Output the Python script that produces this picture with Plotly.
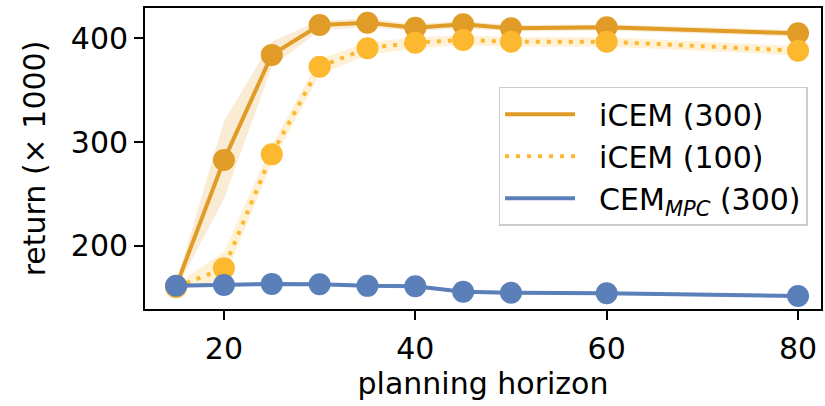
import plotly.graph_objects as go

# planning horizons evaluated
horizon = [15, 20, 25, 30, 35, 40, 45, 50, 60, 80]

# mean return (x 1000) per method
icem300_mean = [161.0, 282.6, 384.0, 412.8, 415.0, 410.2, 413.5, 409.6, 410.6, 404.8]
icem300_lo = [158.0, 245.0, 372.0, 408.0, 411.0, 407.0, 410.0, 406.5, 407.5, 401.5]
icem300_hi = [164.0, 320.0, 397.0, 417.0, 419.0, 413.5, 417.0, 412.5, 413.5, 408.0]

icem100_mean = [160.0, 178.2, 288.1, 372.6, 390.4, 395.8, 398.4, 396.7, 396.7, 388.0]
icem100_lo = [157.0, 167.0, 279.0, 365.0, 384.0, 390.5, 393.5, 392.0, 392.0, 383.5]
icem100_hi = [163.0, 194.0, 297.0, 380.0, 396.0, 401.0, 403.0, 401.0, 401.0, 392.5]

cem_mean = [161.5, 162.2, 163.2, 162.8, 161.3, 161.0, 155.6, 154.7, 154.1, 151.5]
cem_lo = [160.0, 160.7, 161.7, 161.3, 159.8, 159.5, 154.1, 153.2, 152.6, 150.0]
cem_hi = [163.0, 163.7, 164.7, 164.3, 162.8, 162.5, 157.1, 156.2, 155.6, 153.0]

labels = ["iCEM (300)", "iCEM (100)", "CEM<sub><i>MPC</i></sub> (300)"]
colors = ["#E09C26", "#FCB82E", "#5B7FB8"]
bands = ["rgba(224,156,38,0.2)", "rgba(252,184,46,0.2)", "rgba(91,127,184,0.2)"]
dashes = ["solid", "4px,7px", "solid"]

series = [
    (icem300_mean, icem300_lo, icem300_hi),
    (icem100_mean, icem100_lo, icem100_hi),
    (cem_mean, cem_lo, cem_hi),
]

FONT = "DejaVu Sans"
FS = 30
fig = go.Figure()

for (mean, lo, hi), col, band, dash, name in zip(series, colors, bands, dashes, labels):
    # shaded spread
    fig.add_trace(go.Scatter(
        x=horizon + horizon[::-1], y=hi + lo[::-1],
        fill="toself", fillcolor=band, line=dict(width=0),
        mode="lines", hoverinfo="skip", showlegend=False,
    ))
    # mean curve with markers
    fig.add_trace(go.Scatter(
        x=horizon, y=mean, mode="lines+markers",
        line=dict(color=col, width=4, dash=dash),
        marker=dict(color=col, size=22, line=dict(width=0)),
        showlegend=False, name=name,
    ))

# legend entries (line only)
for col, dash, name in zip(colors, dashes, labels):
    fig.add_trace(go.Scatter(
        x=[None], y=[None], mode="lines",
        line=dict(color=col, width=4, dash=dash), name="  " + name,
    ))

axis_common = dict(
    showline=True, mirror=True, linecolor="black", linewidth=1.8,
    ticks="outside", ticklen=9, tickwidth=1.8, tickcolor="black",
    showgrid=False, zeroline=False,
    tickfont=dict(family=FONT, size=FS, color="black"),
)

fig.update_layout(
    width=825, height=406,
    margin=dict(l=145, r=2, t=8, b=97),
    paper_bgcolor="white", plot_bgcolor="white",
    font=dict(family=FONT, size=FS, color="black"),
    xaxis=dict(range=[11.75, 82.4], tickvals=[20, 40, 60, 80], ticklabelstandoff=3,
               title=dict(text="planning horizon", font=dict(family=FONT, size=FS), standoff=8),
               **axis_common),
    yaxis=dict(range=[139, 429.2], tickvals=[200, 300, 400],
               title=dict(text="return (× 1000)", font=dict(family=FONT, size=FS), standoff=16),
               **axis_common),
    legend=dict(
        x=0.523, y=0.738, xanchor="left", yanchor="top",
        bgcolor="rgba(255,255,255,0.85)", bordercolor="#CCCCCC", borderwidth=1.5,
        font=dict(family=FONT, size=FS, color="black"),
        itemwidth=70,
    ),
    showlegend=True,
)

fig.write_html("out.html")
